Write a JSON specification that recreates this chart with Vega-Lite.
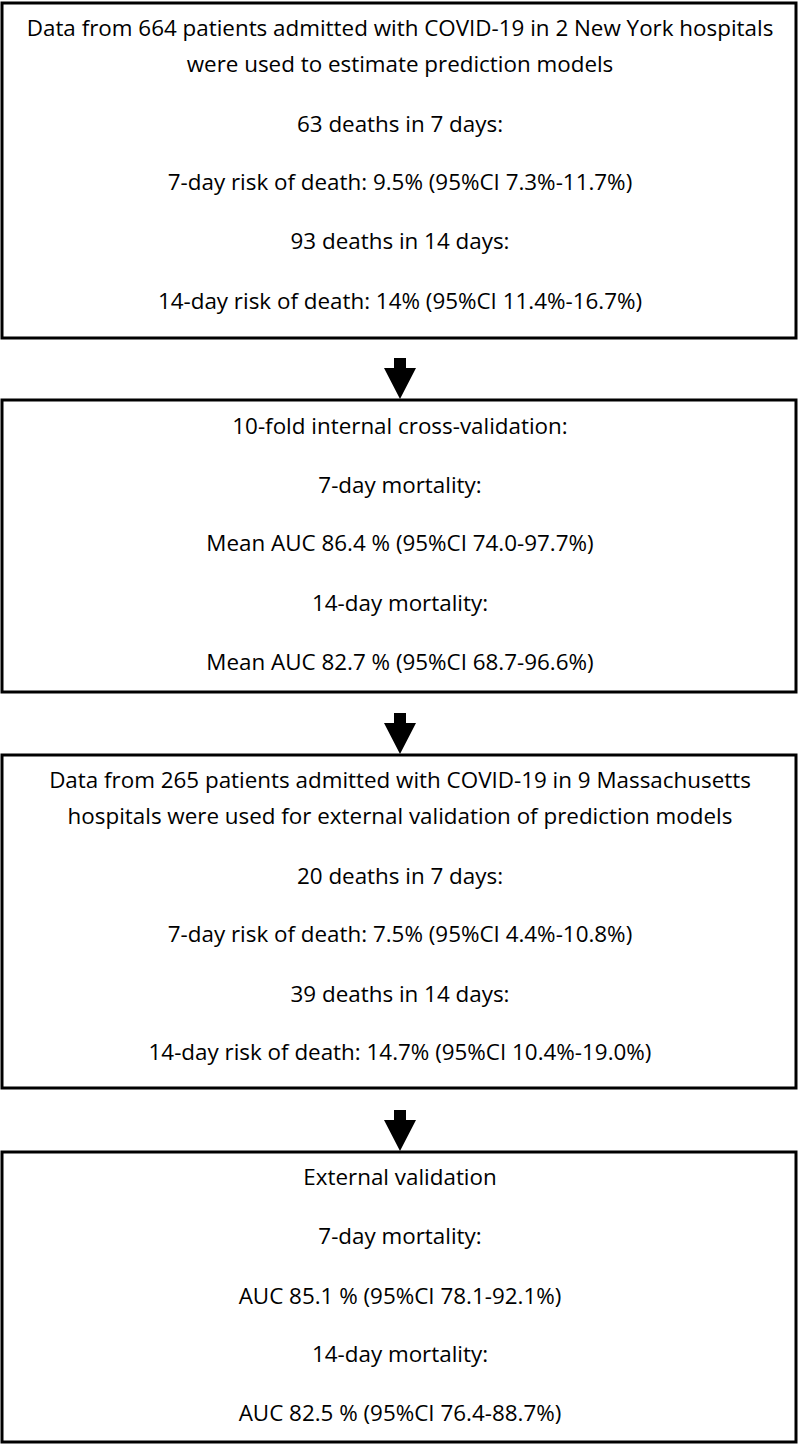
{
  "$schema": "https://vega.github.io/schema/vega-lite/v6.json",
  "width": 800,
  "height": 1449,
  "padding": 0,
  "autosize": {"type": "fit", "contains": "padding"},
  "background": "white",
  "config": {"view": {"stroke": null}},
  "datasets": {
    "boxes": [
      {"box": 1, "x0": 2, "x1": 796, "y0": 3, "y1": 338},
      {"box": 2, "x0": 2, "x1": 796, "y0": 400, "y1": 692},
      {"box": 3, "x0": 2, "x1": 796, "y0": 755, "y1": 1088},
      {"box": 4, "x0": 2, "x1": 796, "y0": 1152, "y1": 1442}
    ],
    "arrows": [
      {"arrow": 1, "x": 400, "y": 378.5},
      {"arrow": 2, "x": 400, "y": 733.5},
      {"arrow": 3, "x": 400, "y": 1130.5}
    ],
    "lines": [
      {"box": 1, "x": 400, "y": 29, "text": "Data from 664 patients admitted with COVID-19 in 2 New York hospitals"},
      {"box": 1, "x": 400, "y": 65, "text": "were used to estimate prediction models"},
      {"box": 1, "x": 400, "y": 125, "text": "63 deaths in 7 days:"},
      {"box": 1, "x": 400, "y": 183, "text": "7-day risk of death: 9.5% (95%CI 7.3%-11.7%)"},
      {"box": 1, "x": 400, "y": 242, "text": "93 deaths in 14 days:"},
      {"box": 1, "x": 400, "y": 302, "text": "14-day risk of death: 14% (95%CI 11.4%-16.7%)"},
      {"box": 2, "x": 400, "y": 427, "text": "10-fold internal cross-validation:"},
      {"box": 2, "x": 400, "y": 486, "text": "7-day mortality:"},
      {"box": 2, "x": 400, "y": 544, "text": "Mean AUC 86.4 % (95%CI 74.0-97.7%)"},
      {"box": 2, "x": 400, "y": 604, "text": "14-day mortality:"},
      {"box": 2, "x": 400, "y": 663, "text": "Mean AUC 82.7 % (95%CI 68.7-96.6%)"},
      {"box": 3, "x": 400, "y": 781, "text": "Data from 265 patients admitted with COVID-19 in 9 Massachusetts"},
      {"box": 3, "x": 400, "y": 817, "text": "hospitals were used for external validation of prediction models"},
      {"box": 3, "x": 400, "y": 877, "text": "20 deaths in 7 days:"},
      {"box": 3, "x": 400, "y": 935, "text": "7-day risk of death: 7.5% (95%CI 4.4%-10.8%)"},
      {"box": 3, "x": 400, "y": 995, "text": "39 deaths in 14 days:"},
      {"box": 3, "x": 400, "y": 1053, "text": "14-day risk of death: 14.7% (95%CI 10.4%-19.0%)"},
      {"box": 4, "x": 400, "y": 1178, "text": "External validation"},
      {"box": 4, "x": 400, "y": 1237, "text": "7-day mortality:"},
      {"box": 4, "x": 400, "y": 1297, "text": "AUC 85.1 % (95%CI 78.1-92.1%)"},
      {"box": 4, "x": 400, "y": 1355, "text": "14-day mortality:"},
      {"box": 4, "x": 400, "y": 1414, "text": "AUC 82.5 % (95%CI 76.4-88.7%)"}
    ]
  },
  "layer": [
    {
      "data": {"name": "boxes"},
      "mark": {"type": "rect", "fill": "white", "stroke": "black", "strokeWidth": 3},
      "encoding": {
        "x": {"field": "x0", "type": "quantitative", "scale": {"domain": [0, 800], "nice": false, "zero": false}, "axis": null},
        "x2": {"field": "x1"},
        "y": {"field": "y0", "type": "quantitative", "scale": {"domain": [0, 1449], "nice": false, "zero": false, "reverse": true}, "axis": null},
        "y2": {"field": "y1"}
      }
    },
    {
      "data": {"name": "arrows"},
      "mark": {
        "type": "point",
        "filled": true,
        "fill": "black",
        "stroke": null,
        "opacity": 1,
        "size": 1024,
        "shape": "M-0.375,-1.28L0.375,-1.28L0.375,-0.656L1,-0.656L0,1.28L-1,-0.656L-0.375,-0.656Z"
      },
      "encoding": {
        "x": {"field": "x", "type": "quantitative", "scale": {"domain": [0, 800], "nice": false, "zero": false}, "axis": null},
        "y": {"field": "y", "type": "quantitative", "scale": {"domain": [0, 1449], "nice": false, "zero": false, "reverse": true}, "axis": null}
      }
    },
    {
      "data": {"name": "lines"},
      "mark": {"type": "text", "font": "Open Sans", "fontSize": 22.4, "color": "black", "align": "center", "baseline": "middle"},
      "encoding": {
        "x": {"field": "x", "type": "quantitative", "scale": {"domain": [0, 800], "nice": false, "zero": false}, "axis": null},
        "y": {"field": "y", "type": "quantitative", "scale": {"domain": [0, 1449], "nice": false, "zero": false, "reverse": true}, "axis": null},
        "text": {"field": "text", "type": "nominal"}
      }
    }
  ]
}
